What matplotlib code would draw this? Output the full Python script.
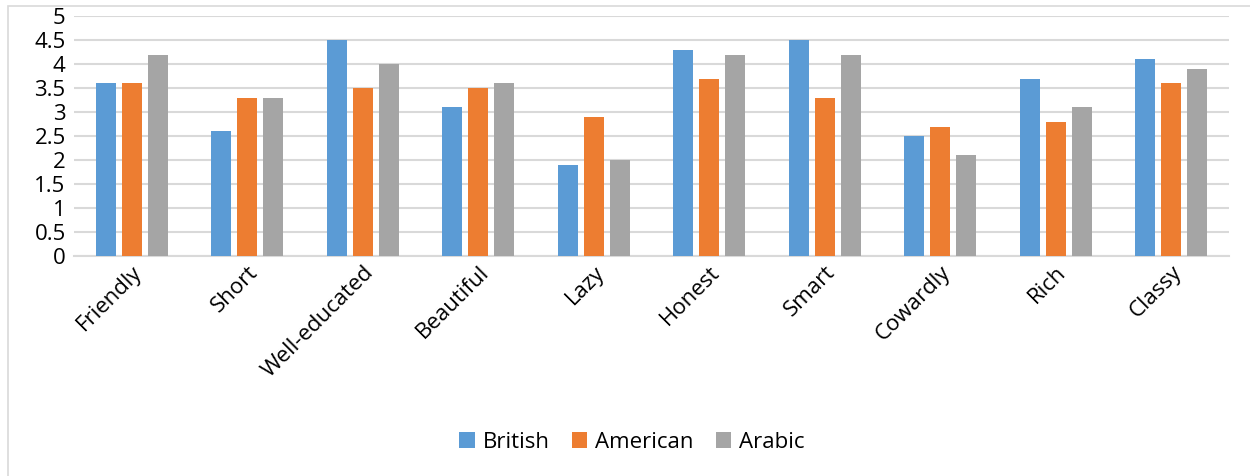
import numpy as np
import matplotlib.pyplot as plt
from matplotlib.patches import Rectangle

plt.rcParams['font.family'] = ['Open Sans', 'DejaVu Sans']

# Mean ratings per trait for each accent group
traits = ['Friendly', 'Short', 'Well-educated', 'Beautiful', 'Lazy',
          'Honest', 'Smart', 'Cowardly', 'Rich', 'Classy']
british = [3.6, 2.6, 4.5, 3.1, 1.9, 4.3, 4.5, 2.5, 3.7, 4.1]
american = [3.6, 3.3, 3.5, 3.5, 2.9, 3.7, 3.3, 2.7, 2.8, 3.6]
arabic = [4.2, 3.3, 4.0, 3.6, 2.0, 4.2, 4.2, 2.1, 3.1, 3.9]

series = [('British', british, '#5b9bd5'),
          ('American', american, '#ed7d31'),
          ('Arabic', arabic, '#a5a5a5')]

fig = plt.figure(figsize=(12.5, 4.76), dpi=100)
ax = fig.add_axes([0.0592, 0.462, 0.924, 0.504])

x = np.arange(len(traits))
width = 0.173
step = 0.225
for i, (name, vals, color) in enumerate(series):
    ax.bar(x + (i - 1) * step, vals, width, color=color, label=name, zorder=3)

ax.set_xlim(-0.5, len(traits) - 0.5)
ax.set_ylim(0, 5)
ax.set_yticks(np.arange(0, 5.01, 0.5))
ax.set_yticklabels(['0', '0.5', '1', '1.5', '2', '2.5', '3', '3.5', '4', '4.5', '5'])
ax.yaxis.grid(True, color='#d9d9d9', linewidth=1.5, zorder=0)
ax.tick_params(axis='y', length=0, pad=6, labelsize=16)
ax.tick_params(axis='x', length=0, pad=4, labelsize=16)
ax.set_xticks(x)
ax.set_xticklabels(traits, rotation=45, ha='right', rotation_mode='anchor')

for s in ['top', 'right', 'left']:
    ax.spines[s].set_visible(False)
ax.spines['bottom'].set_color('#d9d9d9')
ax.spines['bottom'].set_linewidth(1.5)

ax.legend(loc='center', bbox_to_anchor=(632 / 1250, (476 - 442) / 476), bbox_transform=fig.transFigure,
          ncol=3, frameon=False, fontsize=16, handlelength=0.7, handleheight=0.7,
          handletextpad=0.35, columnspacing=1.0)

# chart area border
fig.patches.append(Rectangle((8 / 1250, -0.1), 1.2, 1 - 6 / 476 + 0.1,
                             transform=fig.transFigure, fill=False,
                             edgecolor='#d9d9d9', linewidth=1.2))

fig.savefig('out.png', dpi=100)
